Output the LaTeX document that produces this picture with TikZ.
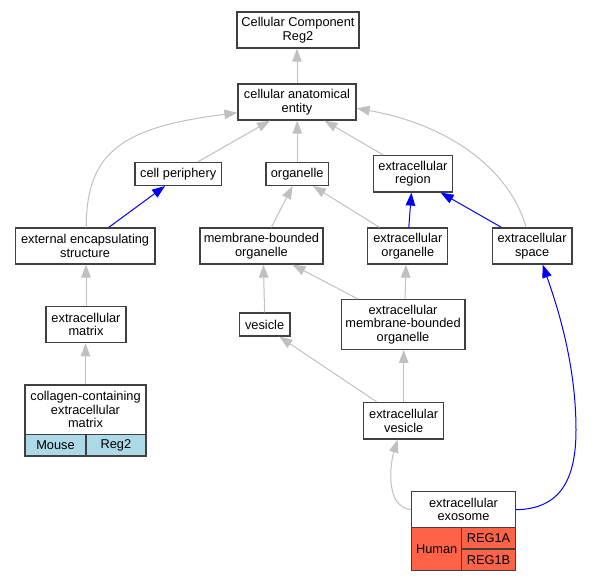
\documentclass[tikz,border=0pt]{standalone}
\usepackage{fontspec}
\setmainfont{Liberation Sans}
\usetikzlibrary{arrows.meta}
\definecolor{isagray}{HTML}{C0C0C0}
\definecolor{mouseblue}{HTML}{ADD8E6}
\definecolor{humanred}{HTML}{FF6347}

\begin{document}
\begin{tikzpicture}[x=1pt, y=-1pt,
        term/.style={draw=black!75, line width=1.3pt, fill=white, align=center, inner sep=0pt,
            font=\fontsize{12.8}{13.4}\selectfont},
        isa/.style={draw=isagray, line width=1pt, -{Triangle[length=13pt, width=9.5pt]}},
        part/.style={isa, draw=blue}]
    \useasboundingbox (0,0) rectangle (592,581);

    \node[term, minimum width=122pt, minimum height=36pt] (cc) at (298,30) {Cellular Component\\Reg2};
    \node[term, minimum width=118pt, minimum height=36pt] (cae) at (297,102) {cellular anatomical\\entity};

    \node[term, minimum width=86.3pt, minimum height=22.7pt] (cellper) at (178.2,174) {cell periphery};
    \node[term, minimum width=62.6pt, minimum height=22.7pt] (organelle) at (297.2,174) {organelle};
    \node[term, minimum width=79.5pt, minimum height=36.3pt] (exreg) at (412.9,173.8) {extracellular\\region};

    \node[term, minimum width=139.5pt, minimum height=36pt] (ees) at (85.1,246) {external encapsulating\\structure};
    \node[term, minimum width=123pt, minimum height=36pt] (mbo) at (261.4,246) {membrane-bounded\\organelle};
    \node[term, minimum width=80pt, minimum height=36pt] (exorg) at (407.8,246) {extracellular\\organelle};
    \node[term, minimum width=79.5pt, minimum height=36pt] (exspace) at (532.1,246) {extracellular\\space};

    \node[term, minimum width=80pt, minimum height=36pt] (exmatrix) at (86,324.7) {extracellular\\matrix};
    \node[term, minimum width=50.6pt, minimum height=23pt] (vesicle) at (264.6,324.5) {vesicle};
    \node[term, minimum width=123.7pt, minimum height=49.6pt] (embo) at (403,324.5) {extracellular\\membrane-bounded\\organelle};

    % record: collagen-containing extracellular matrix
    \node[term, minimum width=120.8pt, minimum height=49.3pt] (collagen) at (85.5,409.7) {collagen-containing\\extracellular\\matrix};
    \node[term, fill=mouseblue, minimum width=60.8pt, minimum height=21.7pt] (mouse) at (55.5,445.2) {Mouse};
    \node[term, fill=mouseblue, minimum width=60pt, minimum height=21.7pt] (reg2) at (115.9,445.2) {Reg2};

    \node[term, minimum width=80pt, minimum height=36.3pt] (exves) at (403.7,420.8) {extracellular\\vesicle};

    % record: extracellular exosome
    \node[term, minimum width=103.5pt, minimum height=36pt] (exosome) at (463.5,509.7) {extracellular\\exosome};
    \node[term, fill=humanred, minimum width=49.8pt, minimum height=43pt] (human) at (436.7,549.2) {Human};
    \node[term, fill=humanred, minimum width=53.7pt, minimum height=21.4pt] (reg1a) at (488.5,538.4) {REG1A};
    \node[term, fill=humanred, minimum width=53.7pt, minimum height=21.6pt] (reg1b) at (488.5,559.9) {REG1B};

    \draw
    (cae.north) edge[isa] (cae.north |- cc.south)
    ([xshift=19.4pt]cellper.north) edge[isa] ([xshift=-27pt]cae.south)
    (organelle.north) edge[isa] (organelle.north |- cae.south)
    ([xshift=-29.6pt]exreg.north) edge[isa] ([xshift=27.4pt]cae.south)
    ([xshift=23.7pt]ees.north) edge[part] ([xshift=-13.2pt]cellper.south)
    ([xshift=10pt]mbo.north) edge[isa] ([xshift=-4.7pt]organelle.south)
    ([xshift=-28.3pt]exorg.north) edge[isa] ([xshift=15.8pt]organelle.south)
    ([xshift=1pt]exorg.north) edge[part] ([xshift=-1.5pt]exreg.south)
    ([xshift=-30.7pt]exspace.north) edge[part] ([xshift=27.7pt]exreg.south)
    (exmatrix.north) edge[isa] (exmatrix.north |- ees.south)
    (collagen.north) edge[isa] (collagen.north |- exmatrix.south)
    (vesicle.north) edge[isa] ([xshift=2pt]mbo.south)
    ([xshift=-45pt]embo.north) edge[isa] ([xshift=31pt]mbo.south)
    ([xshift=2pt]embo.north) edge[isa] ([xshift=-1.8pt]exorg.south)
    ([xshift=-26.8pt]exves.north) edge[isa] ([xshift=14.8pt]vesicle.south)
    (exves.north) edge[isa] (exves.north |- embo.south);

    % curved connectors
    \draw[isa] ([xshift=1.2pt]ees.north) .. controls (86,150) and (125,127) .. ([yshift=-10.7pt]cae.west);
    \draw[isa] ([xshift=-6pt]exspace.north) .. controls (510,170) and (450,125) .. ([yshift=-6.3pt]cae.east);
    \draw[isa] (exosome.west) .. controls (385,507) and (390,465) .. ([xshift=-6.2pt]exves.south);
    \draw[part] (exosome.east) .. controls (560,509) and (576,480) .. (576,430)
        .. controls (576,360) and (555,300) .. ([xshift=10.6pt]exspace.south);
\end{tikzpicture}
\end{document}
